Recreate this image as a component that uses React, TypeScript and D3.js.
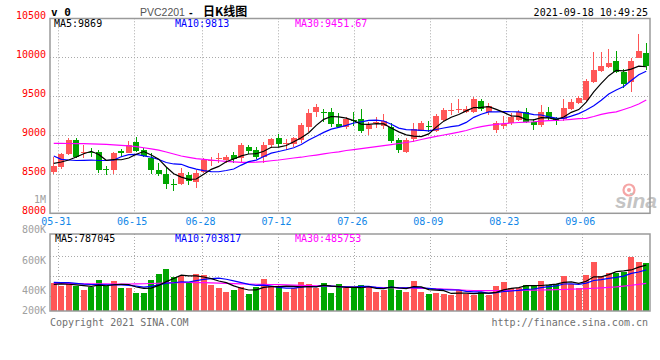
import React from 'react';
import * as d3 from 'd3';

const dates = [
  "05-28","05-31","06-01","06-02","06-03","06-04","06-07","06-08","06-09","06-10",
  "06-11","06-15","06-16","06-17","06-18","06-21","06-22","06-23","06-24","06-25",
  "06-28","06-29","06-30","07-01","07-02","07-05","07-06","07-07","07-08","07-09",
  "07-12","07-13","07-14","07-15","07-16","07-19","07-20","07-21","07-22","07-23",
  "07-26","07-27","07-28","07-29","07-30","08-02","08-03","08-04","08-05","08-06",
  "08-09","08-10","08-11","08-12","08-13","08-16","08-17","08-18","08-19","08-20",
  "08-23","08-24","08-25","08-26","08-27","08-30","08-31","09-01","09-02","09-03",
  "09-06","09-07","09-08","09-09","09-10","09-13","09-14","09-15","09-16","09-17"
];

const opens = [
  8533,8597,8760,8940,8773,8790,8786,8574,8551,8799,
  8777,8918,8811,8715,8555,8504,8376,8372,8491,8401,
  8533,8670,8700,8683,8747,8713,8854,8811,8726,8876,
  8961,8888,8888,8940,9110,9303,9299,9295,9145,9110,
  9200,9205,9085,9158,9123,9110,8940,8790,8949,9059,
  9115,9061,9196,9320,9320,9295,9303,9444,9303,9068,
  9119,9154,9200,9295,9174,9132,9295,9218,9209,9337,
  9420,9452,9677,9824,9879,9953,9815,9683,9995,10055
];
const highs = [
  8726,8769,8959,8969,8876,8841,8811,8606,8786,8820,
  8927,8982,8833,8767,8641,8590,8440,8577,8529,8555,
  8709,8726,8769,8747,8782,8897,8876,8854,8918,8969,
  9013,8949,8982,9154,9337,9397,9337,9346,9284,9235,
  9299,9337,9174,9235,9273,9154,8961,8961,9154,9183,
  9183,9273,9350,9408,9461,9376,9497,9465,9414,9183,
  9247,9286,9324,9346,9209,9388,9367,9235,9465,9465,
  9504,9722,10072,10068,10106,10085,9856,9997,10299,10187
];
const lows = [
  8504,8568,8747,8715,8705,8726,8520,8487,8504,8726,
  8767,8786,8722,8510,8478,8312,8290,8363,8363,8321,
  8517,8610,8641,8641,8641,8662,8756,8696,8641,8841,
  8846,8811,8854,8897,9046,9238,9174,9110,9094,9087,
  9119,9029,9004,9090,9081,8897,8769,8769,8918,9049,
  9046,9042,9183,9260,9282,9286,9286,9311,9260,9026,
  9087,9132,9183,9158,9074,9106,9196,9132,9183,9318,
  9401,9440,9670,9811,9863,9799,9606,9551,9985,9837
];
const closes = [
  8610,8756,8940,8726,8786,8767,8555,8564,8777,8769,
  8879,8799,8735,8555,8504,8376,8367,8520,8414,8520,
  8683,8679,8709,8718,8696,8876,8803,8726,8876,8953,
  8888,8905,8961,9132,9282,9359,9290,9141,9110,9205,
  9192,9059,9132,9165,9183,8931,8811,8940,9077,9154,
  9106,9247,9324,9328,9331,9337,9459,9333,9376,9154,
  9145,9235,9299,9174,9132,9295,9218,9183,9346,9431,
  9472,9696,9837,9888,9931,9811,9658,9956,10081,9888
];
const volumes = [
  487,439,497,439,369,427,545,439,527,409,
  409,322,322,545,650,738,603,615,487,650,
  633,457,409,339,369,427,299,416,562,445,
  427,339,399,515,474,399,487,316,474,399,
  399,457,399,339,369,545,369,339,532,339,
  299,322,299,281,369,299,281,339,281,439,
  515,409,409,457,439,527,457,474,620,474,
  409,633,866,615,673,673,691,954,866,849
].map(v => v * 1000);

const ma5Lead = [8639, 8658, 8683, 8722];
const ma10Lead = [8735, 8692, 8683, 8677, 8679, 8683, 8677, 8677, 8683];
const ma30 = [
  8897,8896,8895,8894,8892,8890,8888,8883,8877,8870,
  8864,8854,8840,8827,8809,8786,8760,8735,8717,8701,
  8691,8682,8674,8665,8659,8654,8652,8656,8663,8674,
  8683,8696,8709,8719,8735,8747,8761,8776,8788,8805,
  8817,8829,8842,8854,8867,8881,8895,8908,8924,8946,
  8968,8986,9004,9022,9040,9062,9090,9112,9127,9140,
  9150,9158,9164,9170,9174,9182,9188,9192,9196,9205,
  9213,9218,9241,9269,9288,9301,9331,9363,9401,9452
];
const volMa5Lead = [469000, 475000, 470000, 460000];
const volMa10Lead = [504000, 500000, 497000, 485000, 472000, 466000, 462000, 460000, 458000];
const volMa30 = [
  487,485,483,481,479,477,476,475,474,474,
  474,476,479,483,488,493,497,500,501,500,
  497,493,489,485,481,478,474,470,467,466,
  464,460,456,452,448,444,440,436,430,425,
  421,418,416,414,413,411,408,405,402,399,
  395,391,387,380,372,365,360,358,357,357,
  358,360,362,365,367,369,371,374,378,383,
  387,393,400,408,416,425,438,452,469,486
].map(v => v * 1000);

const priceTicks = [10500, 10000, 9500, 9000, 8500, 8000];
const dateTicks = ["05-31","06-15","06-28","07-12","07-26","08-09","08-23","09-06"];
const volTickValues = [1000000, 800000, 600000, 400000, 200000];
const volTickLabels = ["1M", "800K", "600K", "400K", "200K"];
const maLabels = ["MA5:9869", "MA10:9813", "MA30:9451.67"];
const volMaLabels = ["MA5:787045", "MA10:703817", "MA30:485753"];

const RED = "#ff5656";
const GREEN = "#00a600";
const MONO = "'DejaVu Sans Mono', monospace";

function movingAvg(arr: number[], n: number, lead: number[]): number[] {
  return arr.map((_, i) => {
    if (i < n - 1) return lead[i];
    let s = 0;
    for (let k = i - n + 1; k <= i; k++) s += arr[k];
    return s / n;
  });
}

export default function App() {
  const L = 50, R = 650;
  const mainTop = 18.3, mainBottom = 213.3;
  const volTop = 234, volBottom = 311;

  const x = d3.scaleBand<string>().domain(dates).range([L, R]).paddingInner(0.2).paddingOuter(0.1);
  const bw = x.bandwidth();
  const cx = (i: number) => (x(dates[i]) as number) + bw / 2;
  const gridX = d3.scaleLinear().domain([0, dates.length - 1]).range([L, R]);
  const y = d3.scaleLinear().domain([8000, 10500]).range([mainBottom, mainTop]);
  const yv = d3.scaleLinear().domain([0, 1353000]).range([volBottom, volTop]);
  const volLabelY = d3.scaleLinear().domain([400000, 1000000]).range([294, 202.7]);

  const ma5 = movingAvg(closes, 5, ma5Lead);
  const ma10 = movingAvg(closes, 10, ma10Lead);
  const vma5 = movingAvg(volumes, 5, volMa5Lead);
  const vma10 = movingAvg(volumes, 10, volMa10Lead);

  const priceLine = d3.line<number>().x((_, i) => cx(i)).y(d => y(d));
  const volLine = d3.line<number>().x((_, i) => cx(i)).y(d => yv(d));

  const volGridFractions = [0.282, 0.542, 0.8];

  return (
    <svg width={660} height={360} style={{ position: 'absolute', left: 0, top: 0, background: '#fff' }}
      fontFamily={MONO}>
      <rect x={0} y={0} width={660} height={360} fill="#fff" />
      {/* header */}
      <text x={51} y={15.5} fontSize={11} fontWeight="bold" fill="#000">v 0</text>
      <text x={140} y={15.5} fontSize={10.5} fontFamily="'Liberation Sans', sans-serif" fill="#555">PVC2201</text>
      <text x={189} y={15.5} fontSize={11} fontFamily="'Liberation Sans', sans-serif" fontWeight="bold" fill="#000">-</text>
      <text x={203} y={16} fontSize={12} fontFamily="'Noto Sans CJK SC', sans-serif" fontWeight="bold" fill="#000">日K线图</text>
      <text x={648} y={15.5} fontSize={10} textAnchor="end" fill="#000">2021-09-18 10:49:25</text>

      {/* main grid */}
      {priceTicks.filter(t => t !== 10500 && t !== 8000).map(t => (
        <line key={'hg' + t} x1={L} x2={R} y1={Math.round(y(t)) + 0.5} y2={Math.round(y(t)) + 0.5}
          stroke="#aaa" strokeDasharray="1,2" />
      ))}
      {dateTicks.map(d => {
        const gx = Math.round(gridX(dates.indexOf(d))) + 0.5;
        return (
          <g key={'vg' + d}>
            <line x1={gx} x2={gx} y1={mainTop} y2={mainBottom} stroke="#aaa" strokeDasharray="1,2" />
            <line x1={gx} x2={gx} y1={volTop} y2={volBottom} stroke="#aaa" strokeDasharray="1,2" />
          </g>
        );
      })}
      {volGridFractions.map(f => {
        const gy = Math.round(volTop + (volBottom - volTop) * f) + 0.5;
        return <line key={'vh' + f} x1={L} x2={R} y1={gy} y2={gy} stroke="#aaa" strokeDasharray="1,2" />;
      })}

      {/* sina watermark */}
      <g>
        <circle cx={629} cy={190} r={5.5} fill="none" stroke="#f5a5a5" strokeWidth={2.2} />
        <circle cx={629} cy={190} r={2} fill="#f5a5a5" />
        <text x={615} y={208} fontSize={21} fontStyle="italic" fontWeight="bold"
          fontFamily="'Liberation Sans', sans-serif" fill="#c4c4c4">sina</text>
      </g>

      {/* price axis labels */}
      {priceTicks.map(t => (
        <text key={'pt' + t} x={46} y={y(t) + 1} fontSize={10} textAnchor="end" fill="#f00">{t}</text>
      ))}
      {volTickValues.map((v, k) => (
        <text key={'vt' + v} x={46} y={Math.min(volLabelY(v), 314.3)} fontSize={10} textAnchor="end" fill="#a0a0a0">
          {volTickLabels[k]}
        </text>
      ))}
      {/* date labels */}
      {dateTicks.map(d => (
        <text key={'dl' + d} x={gridX(dates.indexOf(d)) - 1.4} y={224.5} fontSize={10} textAnchor="middle" fill="#1287e8">{d}</text>
      ))}

      {/* candles */}
      <g shapeRendering="crispEdges">
        {dates.map((d, i) => {
          const up = closes[i] >= opens[i];
          const col = up ? RED : GREEN;
          const x0 = x(d) as number;
          const wx = Math.floor(cx(i)) + 0.5;
          const top = y(Math.max(opens[i], closes[i]));
          const bot = y(Math.min(opens[i], closes[i]));
          return (
            <g key={'c' + d}>
              <line x1={wx} x2={wx} y1={y(highs[i])} y2={y(lows[i])} stroke={col} />
              <rect x={x0} y={top} width={bw} height={Math.max(1, bot - top)} fill={col} />
            </g>
          );
        })}
      </g>
      <path d={priceLine(ma30) || ''} fill="none" stroke="#ff00ff" strokeWidth={1.2} />
      <path d={priceLine(ma10) || ''} fill="none" stroke="#0000ff" strokeWidth={1.2} />
      <path d={priceLine(ma5) || ''} fill="none" stroke="#000" strokeWidth={1.2} />

      {/* volume bars */}
      <g shapeRendering="crispEdges">
        {dates.map((d, i) => {
          const up = closes[i] >= opens[i];
          return (
            <rect key={'v' + d} x={x(d) as number} y={yv(volumes[i])} width={bw}
              height={volBottom - yv(volumes[i])} fill={up ? RED : GREEN} />
          );
        })}
      </g>
      <path d={volLine(volMa30) || ''} fill="none" stroke="#ff00ff" strokeWidth={1.2} />
      <path d={volLine(vma10) || ''} fill="none" stroke="#0000ff" strokeWidth={1.2} />
      <path d={volLine(vma5) || ''} fill="none" stroke="#000" strokeWidth={1.2} />

      {/* panel borders */}
      <rect x={L} y={18.5} width={R - L} height={mainBottom - 18.5} fill="none" stroke="#9a9a9a" strokeWidth={1.5} />
      <rect x={L} y={volTop} width={R - L} height={volBottom - volTop} fill="none" stroke="#9a9a9a" strokeWidth={1.5} />

      {/* MA legends */}
      {maLabels.map((t, k) => (
        <text key={'ml' + k} x={[54, 175, 295][k]} y={26.5} fontSize={10}
          fill={["#000", "#0000ff", "#ff00ff"][k]}>{t}</text>
      ))}
      {volMaLabels.map((t, k) => (
        <text key={'vml' + k} x={[55, 175, 295][k]} y={242} fontSize={10}
          fill={["#000", "#0000ff", "#ff00ff"][k]}>{t}</text>
      ))}

      {/* footer */}
      <text x={50} y={326} fontSize={10} fill="#707070">Copyright 2021 SINA.COM</text>
      <text x={648} y={326} fontSize={10} textAnchor="end" fill="#707070">http://finance.sina.com.cn</text>
    </svg>
  );
}
